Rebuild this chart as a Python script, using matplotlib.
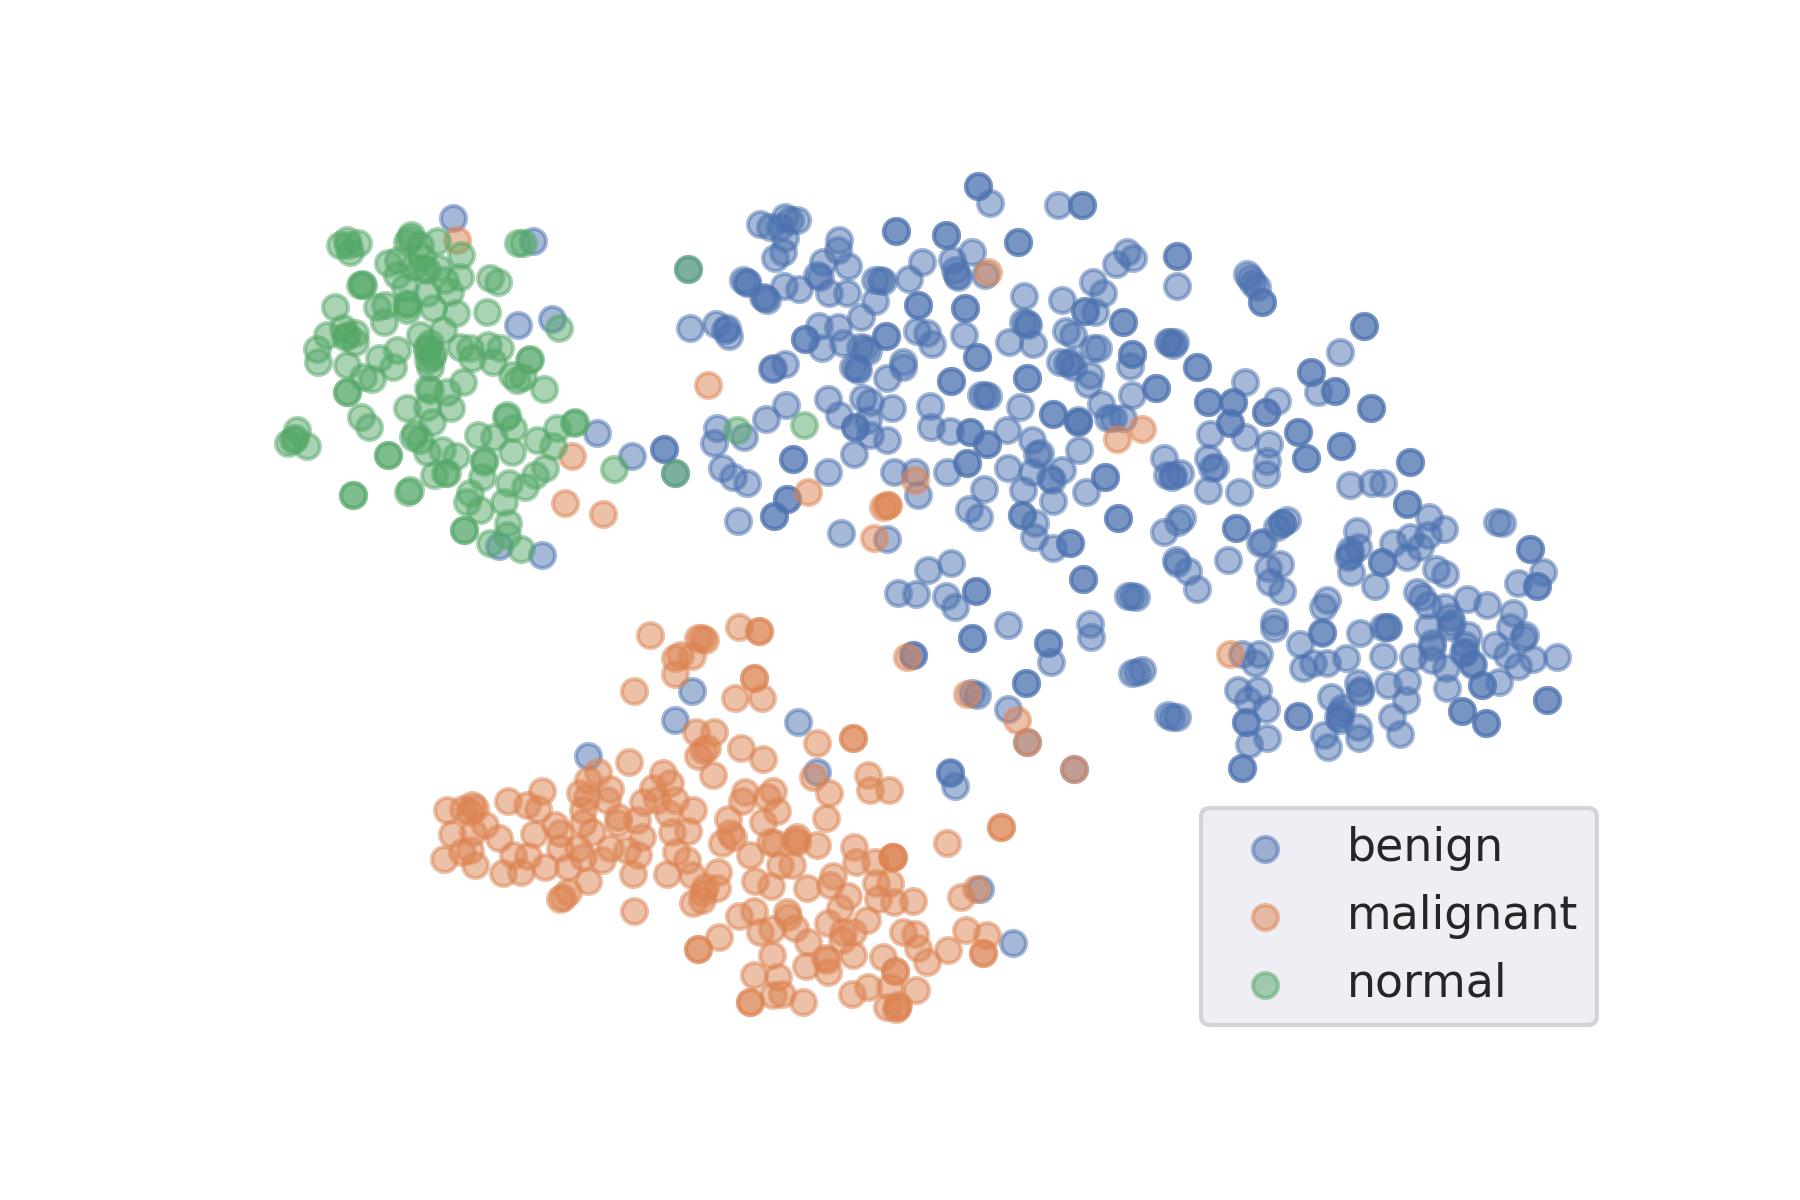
import matplotlib
matplotlib.use('Agg')
import matplotlib.pyplot as plt

# embedding coordinates
benign = [
    (453,218),(533,241),(518,325),(552,319),(597,433),(632,456),(664,449),(664,449),(499,546),(542,555),
    (978,186),(978,186),(990,203),(1058,205),(1082,205),(1082,205),
    (760,224),(770,227),(785,217),(797,220),(790,220),(780,227),(785,238),(783,252),(775,258),
    (839,240),(838,250),(896,231),(896,231),(946,235),(946,235),(1018,242),(1018,242),(972,252),(922,262),
    (952,260),(955,270),(957,275),(958,277),(985,275),
    (823,262),(848,266),(817,275),(820,277),(829,293),(847,293),(875,280),(883,281),(880,280),(909,279),
    (743,280),(747,282),(747,283),(784,286),(799,289),(765,298),(767,300),(763,297),
    (875,301),(861,317),(918,305),(918,305),(965,308),(965,308),(1024,296),(1062,300),
    (690,328),(716,324),(727,328),(729,336),(725,330),(805,339),(805,339),(819,326),(838,327),(822,348),(843,343),
    (860,347),(865,348),(868,351),(886,336),(886,336),(917,331),(927,333),(932,344),(964,335),(977,357),(977,357),
    (1009,342),(1033,344),(1027,323),(1023,322),(1028,325),(1060,362),(1067,363),
    (903,362),(903,367),(887,378),(853,367),(857,368),(858,370),(785,364),(773,368),(772,369),
    (951,381),(951,381),(1027,378),(1027,378),(981,395),(988,396),(985,395),(1020,407),(1053,414),(1053,414),
    (828,399),(863,398),(870,402),(892,408),(839,415),(786,405),(766,419),
    (930,406),(931,427),(950,431),(970,432),(970,432),(987,444),(987,444),(1007,430),
    (855,427),(855,427),(868,420),(870,435),(887,440),(717,428),(714,443),(744,437),(854,454),(793,459),(793,459),
    (722,468),(733,477),(747,483),(828,472),(787,499),(787,499),(774,516),(774,516),(738,521),(841,533),
    (894,472),(915,472),(918,495),(947,472),(967,463),(967,463),(887,539),(1008,468),(984,489),(969,509),(979,517),
    (1023,490),(1032,440),(1037,454),(1032,472),(1052,480),(1053,501),(1022,515),(1022,515),(1035,523),(1034,537),
    (1053,548),(1070,543),(1070,543),
    (1127,252),(1133,258),(1116,264),(1177,256),(1177,256),(1177,286),
    (1247,274),(1250,278),(1253,283),(1257,287),(1262,302),(1262,302),(1364,326),(1364,326),(1340,352),
    (1093,282),(1103,293),(1085,311),(1085,311),(1095,312),(1066,331),(1073,335),(1123,322),(1123,322),
    (1170,342),(1175,342),(1173,345),(1168,342),(1197,367),(1197,367),(1132,354),(1132,354),(1130,366),
    (1098,348),(1093,348),(1070,362),(1073,367),(1090,375),(1088,384),(1132,395),(1156,388),(1156,388),
    (1101,404),(1078,422),(1078,422),(1078,420),(1108,418),(1123,418),(1113,418),(1079,450),(1164,458),
    (1040,453),(1062,470),(1050,478),(1086,492),(1105,477),(1105,477),
    (1167,475),(1173,475),(1180,473),(1172,477),(1208,402),(1208,402),(1233,402),(1233,402),(1245,382),(1277,401),
    (1266,412),(1266,412),(1210,434),(1230,423),(1230,423),(1245,437),(1269,444),(1267,461),(1266,474),
    (1298,432),(1298,432),(1306,458),(1306,458),(1311,372),(1311,372),(1318,392),(1335,391),(1335,391),
    (1371,408),(1371,408),(1341,446),(1341,446),(1410,462),(1410,462),
    (1208,458),(1212,468),(1215,467),(1208,490),(1239,492),(1350,485),(1372,483),(1383,483),(1407,504),(1407,504),
    (1118,518),(1118,518),(1164,532),(1178,522),(1182,518),(1236,528),(1236,528),(1260,543),(1263,542),
    (1282,523),(1282,523),(1277,527),(1287,520),(1176,560),(1228,560),
    (1429,517),(1444,529),(1428,535),(1410,537),(1420,547),(1393,543),(1407,557),
    (1357,531),(1350,550),(1358,547),(1350,555),(1348,557),(1351,572),(1382,562),(1382,562),(1375,586),
    (1268,568),(1280,564),(1270,582),(1282,591),(1497,522),(1502,523),(1530,549),(1530,549),
    (1543,572),(1518,583),(1537,586),(1537,586),(1436,569),(1445,574),
    (1417,592),(1422,597),(1428,605),(1445,607),(1450,617),(1452,623),(1450,627),(1467,599),(1487,605),
    (1513,613),(1510,627),(1525,635),(1523,638),(1468,635),(1495,645),(1507,655),(1465,645),(1465,652),
    (1518,666),(1533,659),(1557,657),(1428,627),(1432,643),(1432,647),(1432,660),(1446,668),(1447,688),
    (1463,653),(1472,663),(1473,665),(1499,682),(1482,685),(1482,685),(1547,700),(1547,700),
    (1462,711),(1462,711),(1486,723),(1486,723),(1413,657),(1383,656),(1407,681),(1388,685),(1406,700),(1392,717),(1400,734),
    (1360,633),(1383,627),(1387,627),(1388,627),(1327,600),(1323,607),(1322,632),(1322,633),(1300,644),
    (1346,658),(1327,663),(1313,663),(1303,668),(1358,683),(1360,690),(1360,692),(1274,622),(1274,628),
    (1242,654),(1259,654),(1255,663),(1238,690),(1258,690),(1248,700),(1266,709),(1246,722),(1246,722),(1267,738),(1249,744),
    (1242,768),(1242,768),(1298,716),(1298,716),(1331,697),(1340,713),(1338,717),(1342,708),(1340,720),
    (1358,727),(1359,738),(1324,735),(1328,747),
    (928,570),(951,563),(898,593),(916,594),(946,596),(955,607),(976,591),(976,591),(1177,563),(1188,571),(1197,589),
    (1083,579),(1083,579),(1128,596),(1132,596),(1136,597),(1008,625),(1090,624),(1091,637),(972,638),(972,638),
    (1048,643),(1048,643),(1051,662),(1132,673),(1137,672),(1142,670),(1026,683),(1026,683),
    (913,655),(913,655),(972,693),(977,695),(1008,709),(1027,742),(1074,769),
    (1168,715),(1172,717),(1177,717),(950,772),(950,773),(955,786),
    (692,691),(675,720),(798,722),(588,756),(817,772),(980,889),(1013,943),
    (688,269),(675,473),
]

malignant = [
    (457,240),(572,456),(565,503),(603,514),(988,272),(708,385),(808,492),(915,480),(883,507),(887,505),(888,505),(874,538),
    (1117,439),(1142,429),(1230,654),(907,657),(967,694),(1017,720),(1027,742),(1074,769),
    (650,635),(702,638),(705,640),(698,638),(739,627),(759,631),(759,631),(675,658),(680,655),(692,656),(675,674),
    (634,691),(754,678),(754,678),(735,698),(762,698),(696,732),(714,732),(707,748),(703,750),(698,756),(713,775),
    (741,748),(763,759),(817,743),(813,777),(629,762),(598,772),(588,780),(610,789),(580,793),(607,800),(587,797),(583,810),
    (663,773),(670,783),(653,788),(675,800),(643,802),(657,800),(693,810),(668,813),(637,820),(618,817),(618,823),
    (592,832),(583,823),(542,791),(508,801),(527,805),(538,809),(447,810),(463,809),(472,805),(475,808),(470,812),
    (485,825),(452,834),(473,832),(499,838),(534,834),(555,825),(560,833),(560,848),(444,859),(462,852),(470,850),(475,865),
    (513,855),(528,856),(503,873),(521,872),(545,867),(578,848),(583,857),(568,867),(588,881),(568,892),(563,897),(560,899),
    (610,848),(627,850),(602,860),(638,855),(642,837),(633,874),(672,832),(688,831),(676,852),(687,860),
    (667,874),(692,875),(718,872),(717,888),(705,887),(703,893),(702,900),(693,903),(634,911),
    (728,819),(730,833),(722,843),(750,855),(733,837),(745,792),(742,801),(773,791),(767,797),(763,822),(777,811),
    (770,842),(775,843),(797,837),(797,842),(795,840),(817,845),(780,865),(792,865),(755,881),(771,886),(807,888),
    (739,916),(754,911),(787,912),(788,917),(795,928),(760,932),(772,929),(719,937),(698,949),(698,949),(808,942),
    (829,793),(826,818),(853,738),(853,738),(868,775),(870,790),(889,790),(947,843),(1001,827),(1001,827),
    (961,897),(976,889),(966,930),(987,935),(948,950),(983,953),(983,953),
    (854,847),(856,862),(875,862),(893,857),(893,857),(892,857),(876,883),(890,883),(878,899),(894,902),(913,901),
    (833,876),(830,885),(848,896),(840,908),(867,920),(828,923),(853,932),(843,932),(842,940),(853,955),
    (903,932),(915,934),(918,948),(927,962),(883,957),(895,971),(895,971),(916,990),(890,987),(852,994),(868,987),
    (887,1007),(897,1007),(898,1005),(896,1009),(825,958),(827,960),(828,972),(806,966),
    (772,955),(754,975),(778,977),(773,995),(782,994),(803,1002),(750,1002),(750,1002),
]

normal = [
    (340,245),(347,240),(358,243),(350,252),(348,245),(411,235),(407,242),(420,245),(410,238),(437,241),
    (461,255),(388,263),(398,260),(422,257),(397,275),(423,268),(427,270),(438,268),(413,267),(460,277),(445,280),(450,292),
    (405,287),(427,293),(518,243),(523,243),(490,278),(498,282),(363,285),(360,285),(362,284),
    (335,307),(377,307),(385,305),(407,305),(407,310),(407,303),(384,322),(433,308),(456,313),(487,312),(559,328),
    (327,335),(343,328),(347,335),(355,342),(355,333),(345,337),(317,349),(318,362),(347,365),(379,358),(397,350),(393,367),
    (363,377),(372,379),(347,392),(347,392),(420,335),(443,330),(430,343),(427,350),(432,357),(428,360),(430,367),(427,347),(433,353),
    (460,347),(470,348),(472,358),(488,345),(500,348),(493,362),(529,360),(530,359),(512,375),(517,380),(523,377),(544,389),
    (463,382),(447,392),(428,388),(430,390),(427,407),(407,408),(451,408),(432,422),(361,417),(369,427),
    (297,430),(293,440),(288,443),(307,446),(295,438),(388,455),(388,455),
    (415,433),(413,437),(420,440),(427,452),(442,450),(456,456),(478,435),(494,437),(513,428),(506,417),(507,415),
    (537,440),(557,428),(574,423),(575,422),(553,446),(512,452),(484,460),(484,462),(482,477),(434,475),(445,473),(447,473),
    (614,469),(545,468),(535,475),(525,487),(509,483),(353,495),(353,495),(410,490),(408,492),
    (470,493),(467,502),(480,510),(504,502),(464,530),(464,530),(508,523),(507,535),(490,543),(521,549),
    (688,269),(737,430),(804,425),(675,473),
]

colors = ['#4C72B0', '#DD8452', '#55A868']
names = ['benign', 'malignant', 'normal']

plt.rcParams['font.family'] = ['DejaVu Sans']
plt.rcParams['font.size'] = 11
plt.rcParams['text.color'] = '.15'
plt.rcParams['patch.linewidth'] = 1

fig = plt.figure(figsize=(6, 4), dpi=300)
ax = fig.add_axes([0.125, 152 / 1200, 0.775, 904 / 1200])

for pts, col, name in zip([benign, malignant, normal], colors, names):
    xs = [p[0] for p in pts]
    ys = [p[1] for p in pts]
    ax.scatter(xs, ys, s=36, c=col, alpha=0.5, linewidths=1, edgecolors='face', label=name)

# axes spans the picture coordinates the points were read in
ax.set_xlim(225, 1620)
ax.set_ylim(1048, 144)
ax.axis('off')
ax.legend(loc='lower right', facecolor='#EAEAF2', edgecolor='0.8', fontsize=11)

fig.savefig('out.png', dpi=300)
